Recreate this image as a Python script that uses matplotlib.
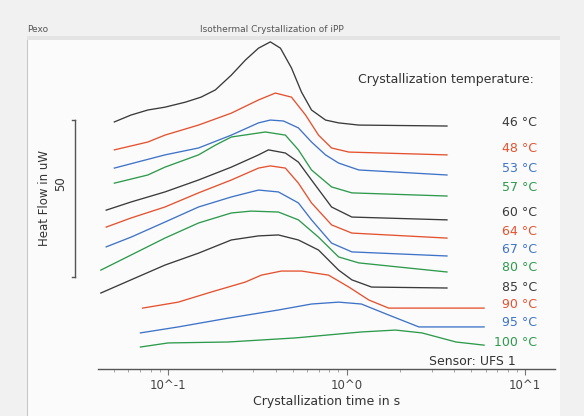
import matplotlib
matplotlib.use("Agg")
import matplotlib.pyplot as plt
import matplotlib.transforms as mtransforms
import numpy as np

# crystallization temperatures (labels) and colours
temps = ["46 °C", "48 °C", "53 °C", "57 °C", "60 °C", "64 °C",
         "67 °C", "80 °C", "85 °C", "90 °C", "95 °C", "100 °C"]
colors = ["#3a3a3a", "#e4522f", "#3f73c8", "#2d9a4c"] * 3

# time in s / heat flow in uW (curves already offset as in the plot)
t46 = [0.050, 0.062, 0.077, 0.096, 0.125, 0.153, 0.184, 0.226, 0.271, 0.321, 0.374, 0.426, 0.491, 0.559, 0.636, 0.762, 0.902, 1.17, 3.65]
hf46 = [82.2, 84.4, 86.0, 86.9, 88.5, 90.1, 92.4, 97.1, 101.9, 105.7, 107.7, 105.7, 99.4, 91.7, 86.0, 82.8, 81.9, 81.2, 80.9]

t48 = [0.050, 0.077, 0.096, 0.148, 0.226, 0.321, 0.399, 0.491, 0.589, 0.696, 0.824, 1.03, 3.65]
hf48 = [73.3, 75.8, 78.0, 81.2, 85.0, 89.2, 91.4, 90.1, 84.4, 78.0, 73.9, 72.6, 71.7]

t53 = [0.050, 0.096, 0.148, 0.226, 0.321, 0.374, 0.443, 0.537, 0.636, 0.762, 0.902, 1.17, 3.65]
hf53 = [67.5, 71.7, 73.9, 78.0, 81.9, 82.8, 82.5, 80.3, 75.8, 71.7, 69.1, 66.9, 65.3]

t57 = [0.050, 0.077, 0.096, 0.148, 0.184, 0.226, 0.351, 0.454, 0.537, 0.636, 0.824, 1.07, 3.65]
hf57 = [62.7, 65.3, 67.8, 71.7, 74.8, 77.4, 79.0, 78.0, 73.3, 66.9, 61.5, 59.6, 58.6]

t60 = [0.045, 0.062, 0.096, 0.148, 0.226, 0.321, 0.365, 0.454, 0.537, 0.636, 0.824, 1.07, 3.65]
hf60 = [54.1, 56.7, 59.9, 63.7, 67.8, 71.7, 73.3, 72.3, 69.4, 63.7, 55.1, 51.9, 51.0]

t64 = [0.045, 0.062, 0.096, 0.148, 0.226, 0.321, 0.374, 0.454, 0.537, 0.636, 0.824, 1.07, 3.65]
hf64 = [48.7, 51.6, 55.1, 59.6, 63.7, 67.5, 68.2, 67.5, 62.7, 56.4, 49.4, 46.8, 45.2]

t67 = [0.045, 0.062, 0.096, 0.148, 0.226, 0.321, 0.415, 0.537, 0.636, 0.824, 1.07, 3.65]
hf67 = [42.4, 45.5, 50.3, 55.1, 58.3, 60.5, 59.9, 56.4, 51.0, 43.6, 40.8, 39.5]

t80 = [0.042, 0.062, 0.096, 0.148, 0.226, 0.292, 0.415, 0.537, 0.696, 0.902, 1.17, 3.65]
hf80 = [35.0, 39.8, 45.2, 50.0, 53.2, 53.8, 53.5, 51.0, 45.5, 39.2, 37.3, 34.4]

t85 = [0.042, 0.062, 0.096, 0.148, 0.226, 0.321, 0.415, 0.537, 0.696, 0.902, 1.07, 1.38, 3.65]
hf85 = [27.7, 31.9, 36.6, 40.4, 44.6, 45.9, 46.2, 44.6, 41.4, 35.0, 31.9, 29.6, 29.3]

t90 = [0.072, 0.114, 0.174, 0.271, 0.333, 0.431, 0.559, 0.792, 1.03, 1.33, 1.72, 5.89]
hf90 = [22.9, 24.8, 28.0, 31.2, 33.4, 34.7, 34.7, 33.4, 29.6, 25.5, 22.9, 22.9]

t95 = [0.070, 0.114, 0.217, 0.415, 0.636, 0.902, 1.21, 1.72, 2.54, 5.89]
hf95 = [15.0, 16.9, 19.7, 22.3, 24.2, 24.8, 24.2, 20.7, 16.9, 16.9]

t100 = [0.070, 0.100, 0.217, 0.517, 1.21, 1.88, 2.64, 4.10, 5.89]
hf100 = [10.5, 11.8, 12.1, 13.4, 15.3, 15.9, 15.0, 12.1, 11.1]

times = [t46, t48, t53, t57, t60, t64, t67, t80, t85, t90, t95, t100]
flows = [hf46, hf48, hf53, hf57, hf60, hf64, hf67, hf80, hf85, hf90, hf95, hf100]

# where the right-hand labels sit (heat flow level)
label_levels = [81.9, 73.6, 67.5, 61.2, 53.5, 47.4, 41.7, 35.7, 29.6, 24.2, 18.2, 11.8]

xticks = [0.1, 1, 10]
xticklabels = ["10^-1", "10^0", "10^1"]
scale_base = 32.8
scale_len = 50

fig = plt.figure(figsize=(5.84, 4.16), dpi=100)
fig.patch.set_facecolor("#f1f1f1")

# white panel like the instrument software window
panel = fig.add_axes([27/584, 0, 533/584, (416-40)/416])
panel.set_facecolor("#fbfbfb")
panel.set_xticks([])
panel.set_yticks([])
for s in ["top", "right", "bottom"]:
    panel.spines[s].set_visible(False)
panel.spines["left"].set_color("#c8c8c8")
panel.set_zorder(0)

band = fig.add_axes([27/584, (416-40)/416, 533/584, 4/416])
band.set_facecolor("#e4e4e4")
band.set_xticks([])
band.set_yticks([])
for s in band.spines.values():
    s.set_visible(False)

ax = fig.add_axes([98/584, (416-369)/416, (555-98)/584, (369-40)/416])
ax.patch.set_alpha(0)
ax.set_xscale("log")
ax.set_xlim(0.0405, 14.7)
ax.set_ylim(3.5, 108.3)

for t, hf, c in zip(times, flows, colors):
    ax.plot(t, hf, color=c, lw=0.95)

for lab, lev, c in zip(temps, label_levels, colors):
    ax.text(1.0 - 18/457, lev, lab, transform=mtransforms.blended_transform_factory(ax.transAxes, ax.transData),
            ha="right", va="center", color=c, fontsize=9)

ax.text(0.569, 0.88, "Crystallization temperature:", transform=ax.transAxes,
        ha="left", va="center", fontsize=9, color="#333333")
ax.text(0.724, 0.022, "Sensor: UFS 1", transform=ax.transAxes,
        ha="left", va="center", fontsize=9, color="#333333")

for s in ["top", "right", "left"]:
    ax.spines[s].set_visible(False)
ax.spines["bottom"].set_color("#555555")
ax.spines["bottom"].set_linewidth(1.0)
ax.set_yticks([])
ax.set_xticks(xticks)
ax.set_xticklabels(xticklabels, fontsize=8.5, color="#444444")
ax.xaxis.set_minor_locator(matplotlib.ticker.LogLocator(base=10, subs=np.arange(2, 10)))
ax.xaxis.set_minor_formatter(matplotlib.ticker.NullFormatter())
ax.tick_params(axis="x", which="major", length=4, color="#777777", pad=3)
ax.tick_params(axis="x", which="minor", length=2.5, color="#999999")
ax.set_xlabel("Crystallization time in s", fontsize=9, color="#333333", labelpad=2)

# vertical scale bar for heat flow
bt = mtransforms.blended_transform_factory(fig.transFigure, ax.transData)
xb = 75/584
cap = 3/584
ax.plot([xb, xb], [scale_base, scale_base + scale_len], color="#555555", lw=1.0,
        transform=bt, clip_on=False)
for yv in [scale_base, scale_base + scale_len]:
    ax.plot([xb - cap, xb], [yv, yv], color="#555555", lw=1.0, transform=bt, clip_on=False)
ax.text(61/584, 62.4, str(scale_len), transform=bt, rotation=90,
        ha="center", va="center", fontsize=8.5, color="#333333")
ax.text(44/584, 58.0, "Heat Flow in uW", transform=bt, rotation=90,
        ha="center", va="center", fontsize=8.5, color="#333333")

fig.text(272/584, 1 - 30/416, "Isothermal Crystallization of iPP", ha="center", va="center",
         fontsize=6.5, color="#555555")
fig.text(27/584, 1 - 30/416, "Pexo", ha="left", va="center", fontsize=6.5, color="#555555")

fig.savefig("out.png", dpi=100, facecolor=fig.get_facecolor())
